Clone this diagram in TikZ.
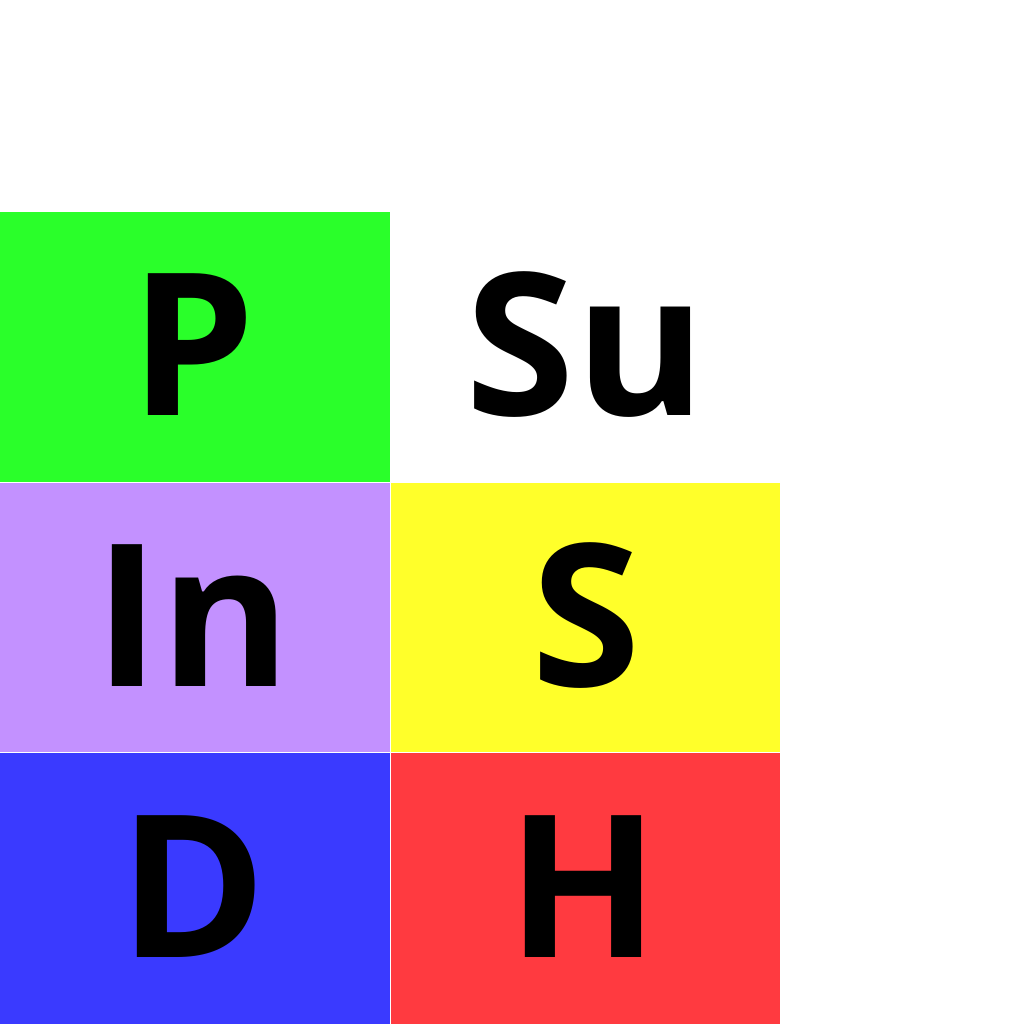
\documentclass[tikz,border=0pt]{standalone}
\usepackage{fontspec}
\setmainfont{Open Sans}
\definecolor{cgreen}{RGB}{42,255,42}
\definecolor{cpurple}{RGB}{195,145,255}
\definecolor{cyellow}{RGB}{255,255,42}
\definecolor{cblue}{RGB}{58,58,255}
\definecolor{cred}{RGB}{255,58,64}
\begin{document}
\begin{tikzpicture}[x=0.01cm,y=-0.01cm,
  cell/.style={draw=none,inner sep=0pt,outer sep=0pt,anchor=north west},
  lbl/.style={anchor=base,inner sep=0pt,font=\fontsize{56.5pt}{56.5pt}\selectfont\bfseries,text=black}]
\useasboundingbox[fill=white] (0,0) rectangle (1024,1024);
\node[cell,fill=cgreen,minimum width=3.895cm,minimum height=2.695cm] (cP) at (0,212) {};
\node[cell,minimum width=3.895cm,minimum height=2.695cm] (cSu) at (390.5,212) {};
\node[cell,fill=cpurple,minimum width=3.895cm,minimum height=2.695cm] (cIn) at (0,482.5) {};
\node[cell,fill=cyellow,minimum width=3.895cm,minimum height=2.695cm] (cS) at (390.5,482.5) {};
\node[cell,fill=cblue,minimum width=3.895cm,minimum height=2.71cm] (cD) at (0,753) {};
\node[cell,fill=cred,minimum width=3.895cm,minimum height=2.71cm] (cH) at (390.5,753) {};
\node[lbl] (tP) at (193,415.5) {P};
\node[lbl] (tSu) at (586,415.5) {Su};
\node[lbl] (tIn) at (193,686.5) {In};
\node[lbl] (tS) at (586,686.5) {S};
\node[lbl] (tD) at (193,957.5) {D};
\node[lbl] (tH) at (584,957.5) {H};
\end{tikzpicture}
\end{document}
